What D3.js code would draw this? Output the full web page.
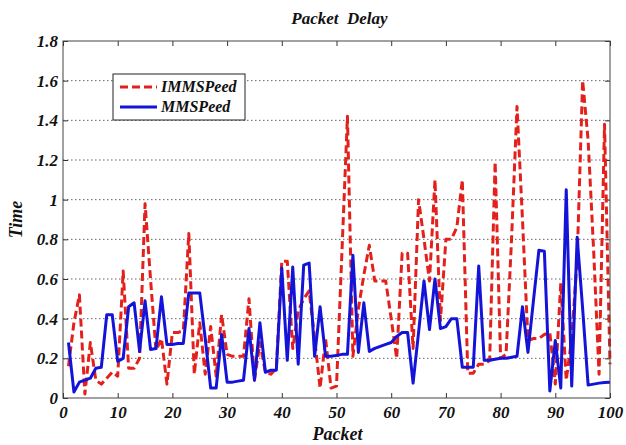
<!DOCTYPE html>
<html><head><meta charset="utf-8">
<script src="https://cdn.jsdelivr.net/npm/d3@7"></script>
<style>
html,body{margin:0;padding:0;background:#fff;}
svg text{font-family:"Liberation Serif",serif;font-weight:bold;font-style:italic;fill:#111;}
</style></head>
<body>
<svg id="chart" width="626" height="445"></svg>
<script>
const packets = d3.range(1, 101);
const immspeed = [0.16,0.38,0.52,0.02,0.28,0.09,0.07,0.10,0.13,0.11,
  0.64,0.15,0.15,0.20,0.98,0.60,0.24,0.30,0.07,0.33,
  0.33,0.34,0.83,0.12,0.38,0.12,0.36,0.11,0.42,0.22,
  0.21,0.21,0.21,0.50,0.09,0.28,0.13,0.12,0.15,0.69,
  0.69,0.25,0.44,0.50,0.54,0.30,0.05,0.30,0.05,0.06,
  0.74,1.42,0.21,0.45,0.62,0.77,0.59,0.59,0.59,0.40,
  0.20,0.73,0.73,0.25,1.00,0.80,0.59,1.10,0.39,0.80,
  0.80,0.86,1.10,0.125,0.125,0.17,0.17,0.19,1.19,0.20,
  0.22,0.80,1.47,0.90,0.29,0.30,0.30,0.32,0.33,0.07,
  0.58,0.09,0.30,0.70,1.60,1.30,0.75,0.12,1.38,0.17];
const mmspeed = [0.28,0.03,0.08,0.09,0.10,0.15,0.155,0.42,0.42,0.185,
  0.20,0.46,0.48,0.235,0.49,0.245,0.25,0.51,0.27,0.27,
  0.275,0.275,0.53,0.53,0.53,0.30,0.05,0.05,0.32,0.08,
  0.08,0.085,0.09,0.35,0.09,0.38,0.13,0.14,0.14,0.655,
  0.19,0.66,0.17,0.67,0.68,0.21,0.46,0.21,0.21,0.215,
  0.22,0.22,0.72,0.23,0.48,0.235,0.25,0.26,0.27,0.28,
  0.31,0.33,0.33,0.075,0.33,0.59,0.345,0.60,0.35,0.36,
  0.40,0.40,0.155,0.155,0.155,0.665,0.19,0.19,0.195,0.20,
  0.20,0.205,0.21,0.46,0.23,0.49,0.745,0.74,0.035,0.29,
  0.05,1.05,0.06,0.81,0.45,0.065,0.07,0.075,0.078,0.08];
const xTicks = [0,10,20,30,40,50,60,70,80,90,100];
const yTicks = [0,0.2,0.4,0.6,0.8,1,1.2,1.4,1.6,1.8];
const yTickLabels = ["0","0.2","0.4","0.6","0.8","1","1.2","1.4","1.6","1.8"];
const seriesNames = ["IMMSPeed","MMSPeed"];
const seriesColors = ["#e3211c","#1414d8"];

const L=63, R=610, T=41, B=398;
const svg = d3.select("#chart");
const x = d3.scaleLinear().domain([0,100]).range([L,R]);
const y = d3.scaleLinear().domain([0,1.8]).range([B,T]);

// grid
svg.append("g").selectAll("line").data(yTicks.slice(1,-1)).join("line")
  .attr("x1",L).attr("x2",R).attr("y1",d=>y(d)).attr("y2",d=>y(d))
  .attr("stroke","#666").attr("stroke-width",1).attr("stroke-dasharray","1.5,2.5");

// axes
const ax = svg.append("g").attr("transform",`translate(0,${B})`)
  .call(d3.axisBottom(x).tickValues(xTicks).tickSize(-5).tickPadding(8).tickFormat(d3.format("d")));
const axTop = svg.append("g").attr("transform",`translate(0,${T})`)
  .call(d3.axisTop(x).tickValues(xTicks).tickSize(-5).tickFormat(""));
const ay = svg.append("g").attr("transform",`translate(${L},0)`)
  .call(d3.axisLeft(y).tickValues(yTicks).tickSize(-5).tickPadding(5).tickFormat((d,i)=>yTickLabels[i]));
const ayR = svg.append("g").attr("transform",`translate(${R},0)`)
  .call(d3.axisRight(y).tickValues(yTicks).tickSize(-5).tickFormat(""));
[ax,axTop,ay,ayR].forEach(g=>{
  g.select(".domain").remove();
  g.selectAll(".tick line").attr("stroke","#333");
  g.selectAll("text").attr("font-size",17).attr("fill","#111")
   .style("font-family","Liberation Serif").style("font-weight","bold").style("font-style","italic");
});

// lines
const line = d3.line().x((d,i)=>x(packets[i])).y(d=>y(d));
svg.append("path").datum(immspeed).attr("d",line).attr("fill","none")
  .attr("stroke",seriesColors[0]).attr("stroke-width",3).attr("stroke-dasharray","8,4")
  .attr("stroke-linejoin","round");
svg.append("path").datum(mmspeed).attr("d",line).attr("fill","none")
  .attr("stroke",seriesColors[1]).attr("stroke-width",3).attr("stroke-linejoin","round");

// box
svg.append("rect").attr("x",L).attr("y",T).attr("width",R-L).attr("height",B-T)
  .attr("fill","none").attr("stroke","#444").attr("stroke-width",1);

// title & labels
svg.append("text").attr("x",(L+R)/2+3).attr("y",24).attr("text-anchor","middle")
  .attr("font-size",17).attr("xml:space","preserve").text("Packet  Delay");
svg.append("text").attr("x",(L+R)/2+1).attr("y",440).attr("text-anchor","middle")
  .attr("font-size",18).text("Packet");
svg.append("text").attr("transform",`translate(22,${(T+B)/2}) rotate(-90)`).attr("text-anchor","middle")
  .attr("font-size",18).text("Time");

// legend
const lg = svg.append("g");
lg.append("rect").attr("x",113).attr("y",74).attr("width",132).attr("height",46)
  .attr("fill","#fff").attr("stroke","#222").attr("stroke-width",1);
seriesNames.forEach((n,i)=>{
  const yy = 87 + i*20;
  lg.append("line").attr("x1",120).attr("x2",157).attr("y1",yy).attr("y2",yy)
    .attr("stroke",seriesColors[i]).attr("stroke-width",3)
    .attr("stroke-dasharray", i===0 ? "8,4" : null);
  lg.append("text").attr("x",161).attr("y",yy+5).attr("font-size",16).text(n);
});
</script>
</body></html>
